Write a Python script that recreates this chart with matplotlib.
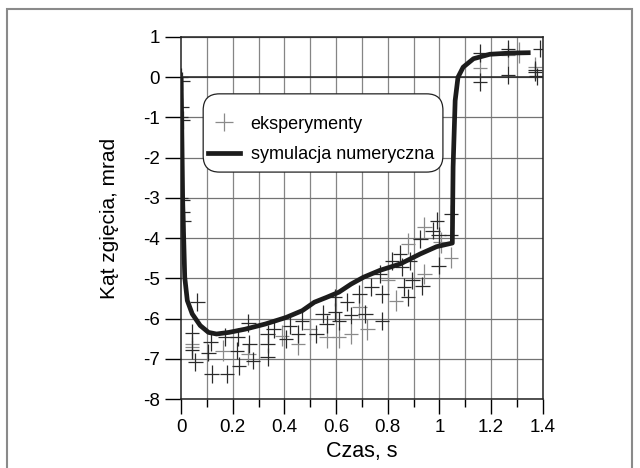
import matplotlib
matplotlib.use("Agg")
import matplotlib.pyplot as plt
from matplotlib.lines import Line2D
from matplotlib.patches import Rectangle, FancyBboxPatch

plt.rcParams['font.family'] = ['Liberation Sans', 'DejaVu Sans']
plt.rcParams['axes.unicode_minus'] = False

# symulacja numeryczna
sim_t = [0.0, 0.003, 0.006, 0.014, 0.024, 0.043, 0.074, 0.106, 0.137, 0.185,
         0.248, 0.327, 0.406, 0.469, 0.516, 0.563, 0.611, 0.658, 0.706, 0.769,
         0.848, 0.926, 0.989, 1.05, 1.053, 1.061, 1.072, 1.092, 1.132, 1.195,
         1.274, 1.353]
sim_k = [0.0, -1.5, -3.06, -4.97, -5.55, -5.88, -6.17, -6.34, -6.38, -6.34,
         -6.26, -6.13, -5.97, -5.80, -5.59, -5.47, -5.34, -5.14, -4.97, -4.80,
         -4.64, -4.39, -4.21, -4.12, -2.23, -0.58, 0.0, 0.25, 0.46, 0.57,
         0.60, 0.61]

# eksperymenty (ciemne)
exp_t_dark = [0.0, 0.005, 0.003, 0.0, 0.008, 0.0, 0.005, 0.008, 0.01,
              0.063, 0.043, 0.043, 0.055, 0.114, 0.106, 0.118, 0.169, 0.177,
              0.216, 0.219, 0.224, 0.26, 0.264, 0.279, 0.335, 0.335, 0.335,
              0.358, 0.406, 0.421, 0.453, 0.469, 0.524, 0.548, 0.563, 0.595,
              0.595, 0.611, 0.642, 0.658, 0.69, 0.713, 0.737, 0.769, 0.777,
              0.777, 0.816, 0.848, 0.855, 0.863, 0.887, 0.895, 0.879, 0.926,
              0.934, 0.974, 0.99, 0.997, 0.997, 1.045, 1.045,
              1.157, 1.157, 1.266, 1.266, 1.389, 1.37, 1.37, 1.376]
exp_k_dark = [0.0, -0.1, -0.74, -0.99, -1.06, -3.0, -3.06, -3.34, -3.58,
              -5.59, -6.36, -6.77, -7.07, -6.59, -6.84, -7.37, -6.46, -7.37,
              -6.79, -6.46, -7.17, -6.11, -6.63, -7.04, -6.38, -6.63, -6.96,
              -6.26, -6.50, -6.17, -6.38, -6.05, -6.38, -5.88, -6.13, -5.47,
              -5.84, -6.05, -5.59, -5.92, -5.38, -5.88, -5.22, -4.89, -5.38,
              -6.05, -4.56, -4.39, -4.72, -5.22, -4.56, -5.05, -5.47, -4.02,
              -5.18, -3.81, -3.56, -3.93, -4.68, -3.93, -3.39,
              0.60, -0.12, 0.71, 0.06, 0.71, 0.18, 0.13, 0.02]

# eksperymenty (szare)
exp_t_gray = [0.043, 0.043, 0.161, 0.26, 0.39, 0.453, 0.5, 0.563, 0.611,
              0.658, 0.69, 0.721, 0.8, 0.832, 0.879, 0.942, 0.942, 1.005,
              1.045, 1.157, 1.266, 1.31, 1.37]
exp_k_gray = [-6.63, -6.71, -6.79, -6.88, -6.42, -6.63, -6.26, -6.46, -6.46,
              -6.38, -5.71, -6.26, -5.05, -5.55, -4.14, -3.73, -4.89, -4.1,
              -4.49, 0.22, 0.54, 0.62, 0.25]

x_ticks = [0, 0.2, 0.4, 0.6, 0.8, 1, 1.2, 1.4]
x_tick_labels = ['0', '0.2', '0.4', '0.6', '0.8', '1', '1.2', '1.4']
y_ticks = list(range(-8, 2))

fig = plt.figure(figsize=(6.4, 4.68), dpi=100)
ax = fig.add_axes([0.283, 0.147, 0.565, 0.774])

fig.patches.append(Rectangle((7 / 640, -0.02), 625 / 640, 1 - 9 / 468 + 0.02,
                             transform=fig.transFigure, fill=False,
                             edgecolor='#8a8a8a', linewidth=1.5))

# siatka
for t in [i / 10 for i in range(1, 14)]:
    ax.axvline(t, color='#858585', lw=0.9, zorder=0)
for k in y_ticks:
    ax.axhline(k, color='#737373', lw=0.9, zorder=0)
ax.axhline(0, color='#222222', lw=1.1, zorder=1)

ax.errorbar(exp_t_gray, exp_k_gray, xerr=0.028, yerr=0.26, fmt='none',
            ecolor='#8a8a8a', elinewidth=0.9, capsize=0, zorder=2)
ax.errorbar(exp_t_dark, exp_k_dark, xerr=0.028, yerr=0.22, fmt='none',
            ecolor='#2a2a2a', elinewidth=0.9, capsize=0, zorder=2)
ax.plot(sim_t, sim_k, color='#1c1c1c', lw=3.4, zorder=3,
        solid_capstyle='butt', solid_joinstyle='round')

ax.set_xlim(0, 1.4)
ax.set_ylim(-8, 1)
ax.set_xticks(x_ticks)
ax.set_xticklabels(x_tick_labels)
ax.set_xticks([i / 10 for i in range(1, 14, 2)], minor=True)
ax.set_yticks(y_ticks)
ax.tick_params(axis='x', which='major', direction='out', length=11, width=1,
               labelsize=13.5, pad=3)
ax.tick_params(axis='x', which='minor', direction='out', length=6, width=1)
ax.tick_params(axis='y', direction='out', length=11.5, width=1,
               labelsize=13.5, pad=4)
for s in ax.spines.values():
    s.set_color('#222222')
    s.set_linewidth(1.1)

ax.set_xlabel('Czas, s', fontsize=15.5, labelpad=4)
ax.set_ylabel('Kąt zgięcia, mrad', fontsize=15, labelpad=17)

# ramka legendy
ax.add_patch(FancyBboxPatch((0.061, 0.627), 0.663, 0.216,
                            boxstyle='round,pad=0,rounding_size=0.045',
                            transform=ax.transAxes, facecolor='white',
                            edgecolor='#222222', linewidth=0.9, zorder=4))

h_exp = Line2D([], [], color='#8a8a8a', marker='+', markersize=13,
               markeredgewidth=0.9, linestyle='none')
h_sim = Line2D([], [], color='#1c1c1c', lw=3.4)
leg = ax.legend([h_exp, h_sim], ['eksperymenty', 'symulacja numeryczna'],
                loc='center left', bbox_to_anchor=(0.075, 0.717), fontsize=13,
                frameon=False, borderpad=0, labelspacing=0.75,
                handlelength=1.75, handletextpad=0.6, borderaxespad=0)
leg.set_zorder(5)

fig.savefig('out.png', dpi=100)
